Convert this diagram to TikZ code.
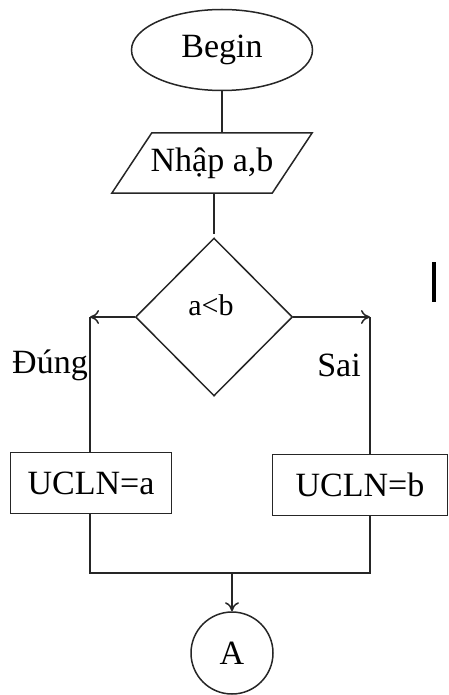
\documentclass[tikz,border=0pt]{standalone}
\usepackage{fontspec}
\setmainfont{Liberation Serif}
\usetikzlibrary{shapes.geometric,arrows.meta,calc}
\begin{document}
\begin{tikzpicture}[x=1pt,y=-1pt,
  every node/.style={font=\fontsize{34}{40}\selectfont, inner sep=0pt},
  line/.style={line width=1.5pt, draw=black!85},
  arr/.style={line, -{To[length=9pt,width=14pt,line width=1.5pt]}},
  shapebox/.style={line width=1.5pt, draw=black!85}]
\useasboundingbox (0,0) rectangle (448,695);
% nodes
\node[shapebox, ellipse, minimum width=181pt, minimum height=81pt] (e) at (222,50) {Begin};
\node[rectangle, minimum width=160pt, minimum height=60pt] (in) at (212,163) {Nhập a,b};
\draw[shapebox] ($(in.north west)+(20,0)$) -- ($(in.north east)+(20,0)$)
   -- ($(in.south east)+(-20,0)$) -- ($(in.south west)+(-20,0)$) -- cycle;
\node[shapebox, diamond, minimum width=157pt, minimum height=158pt] (d) at (214,317) {};
\node[font=\fontsize{30}{36}\selectfont] (cond) at (211,305) {a<b};
\node[shapebox, rectangle, minimum width=161pt, minimum height=61pt] (L) at (91,483) {UCLN=a};
\node[shapebox, rectangle, minimum width=175pt, minimum height=61pt] (R) at (360,485) {UCLN=b};
\node[shapebox, circle, minimum size=82pt] (A) at (232,653) {A};
\node (yes) at (50,365) {Đúng};
\node (no) at (339,365) {Sai};
\coordinate (cL) at (90,317);
\coordinate (cR) at (370,317);
\coordinate (cM) at (232,573);
% connectors
\draw[line] (e.south) -- (e.south |- in.north);
\draw[line] (d.north |- in.south) -- ($(d.north)+(0,-3)$);
\draw[arr] (d.west) -- (cL);
\draw[line] (cL) -- (cL |- L.north);
\draw[arr] (d.east) -- (cR);
\draw[line] (cR) -- (cR |- R.north);
\draw[line] (cL |- L.south) -- (cL |- cM) -- (cR |- cM) -- (cR |- R.south);
\draw[arr] (cM) -- (A.north);
% text cursor mark
\draw[line width=4pt] (434,262) -- (434,302);
\end{tikzpicture}
\end{document}
